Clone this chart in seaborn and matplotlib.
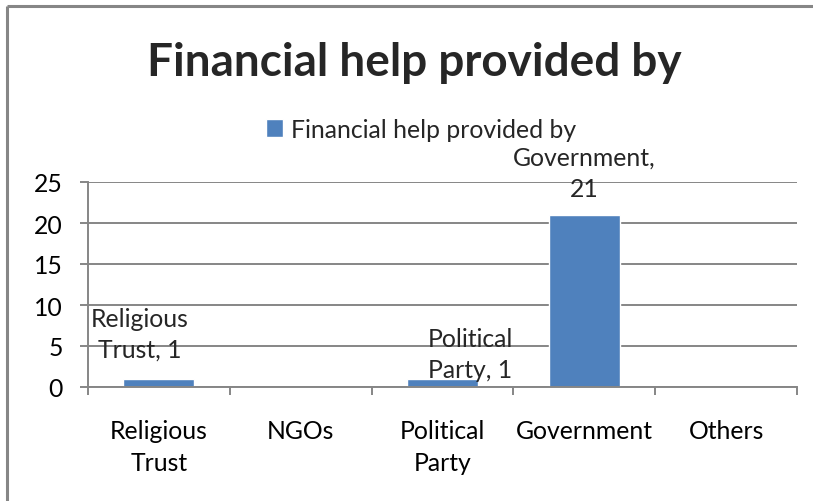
import matplotlib
matplotlib.use("Agg")
import matplotlib.pyplot as plt
import seaborn as sns
from matplotlib.lines import Line2D

categories = ["Religious\nTrust", "NGOs", "Political\nParty", "Government", "Others"]
values = [1, 0, 1, 21, 0]
series_name = "Financial help provided by"
title_text = "Financial help provided by"
point_labels = ["Religious\nTrust, 1", None, "Political\nParty, 1", "Government,\n21", None]
# label offsets (points) relative to the top of each bar
label_offsets = [(-14, 13), None, (20, -1.5), (0, 11), None]
y_ticks = [0, 5, 10, 15, 20, 25]

bar_color = "#4F81BD"
line_gray = "#868686"
text_size = 17.8

sns.set_theme(style="white")
plt.rcParams["font.family"] = ["Lato", "DejaVu Sans"]

W, H = 813, 502
fig = plt.figure(figsize=(W / 100, H / 100), dpi=100)
fig.patch.set_facecolor("white")

# chart frame: top and left edges
fx, fy = 7 / W, 1 - 7 / H
fig.add_artist(Line2D([fx, 1.0], [fy, fy], transform=fig.transFigure,
                      color=line_gray, linewidth=2.2, solid_capstyle="butt"))
fig.add_artist(Line2D([fx, fx], [fy, 0.0], transform=fig.transFigure,
                      color=line_gray, linewidth=2.2, solid_capstyle="butt"))

left, right, top, bottom = 88, 797, 183, 388
ax = fig.add_axes([left / W, (H - bottom) / H, (right - left) / W, (bottom - top) / H])

sns.barplot(x=categories, y=values, color=bar_color, width=0.5, ax=ax,
            label=series_name, saturation=1)

ax.set_ylim(0, 25)
ax.set_xlim(-0.5, len(categories) - 0.5)
ax.set_yticks(y_ticks)
ax.set_xlabel("")
ax.set_ylabel("")

ax.yaxis.grid(True, color=line_gray, linewidth=1.4)
ax.set_axisbelow(True)
for s in ["top", "right"]:
    ax.spines[s].set_visible(False)
for s in ["left", "bottom"]:
    ax.spines[s].set_color(line_gray)
    ax.spines[s].set_linewidth(1.4)

ax.tick_params(axis="y", which="major", left=True, length=6, width=1.4,
               color=line_gray, labelsize=text_size, pad=12, labelcolor="black")
ax.tick_params(axis="x", which="major", length=0, labelsize=text_size, pad=23,
               labelcolor="black")
for t in ax.get_xticklabels():
    t.set_linespacing(1.5)
ax.set_xticks([i - 0.5 for i in range(len(categories) + 1)], minor=True)
ax.tick_params(axis="x", which="minor", bottom=True, length=6, width=1.4,
               color=line_gray)

for i, (lab, off) in enumerate(zip(point_labels, label_offsets)):
    if lab is None:
        continue
    ax.annotate(lab, xy=(i, values[i]), xytext=off, textcoords="offset points",
                ha="center", va="bottom", fontsize=text_size, linespacing=1.4,
                annotation_clip=False)

fig.text(414 / W, 1 - 63 / H, title_text, ha="center", va="center",
         fontsize=33, fontweight="bold")

leg = ax.legend(loc="center", bbox_to_anchor=(421 / W, 1 - 130 / H),
                bbox_transform=fig.transFigure, frameon=False,
                fontsize=text_size, handlelength=0.7, handleheight=0.7,
                handletextpad=0.3, borderaxespad=0)

fig.savefig("out.png", dpi=100, facecolor="white")
